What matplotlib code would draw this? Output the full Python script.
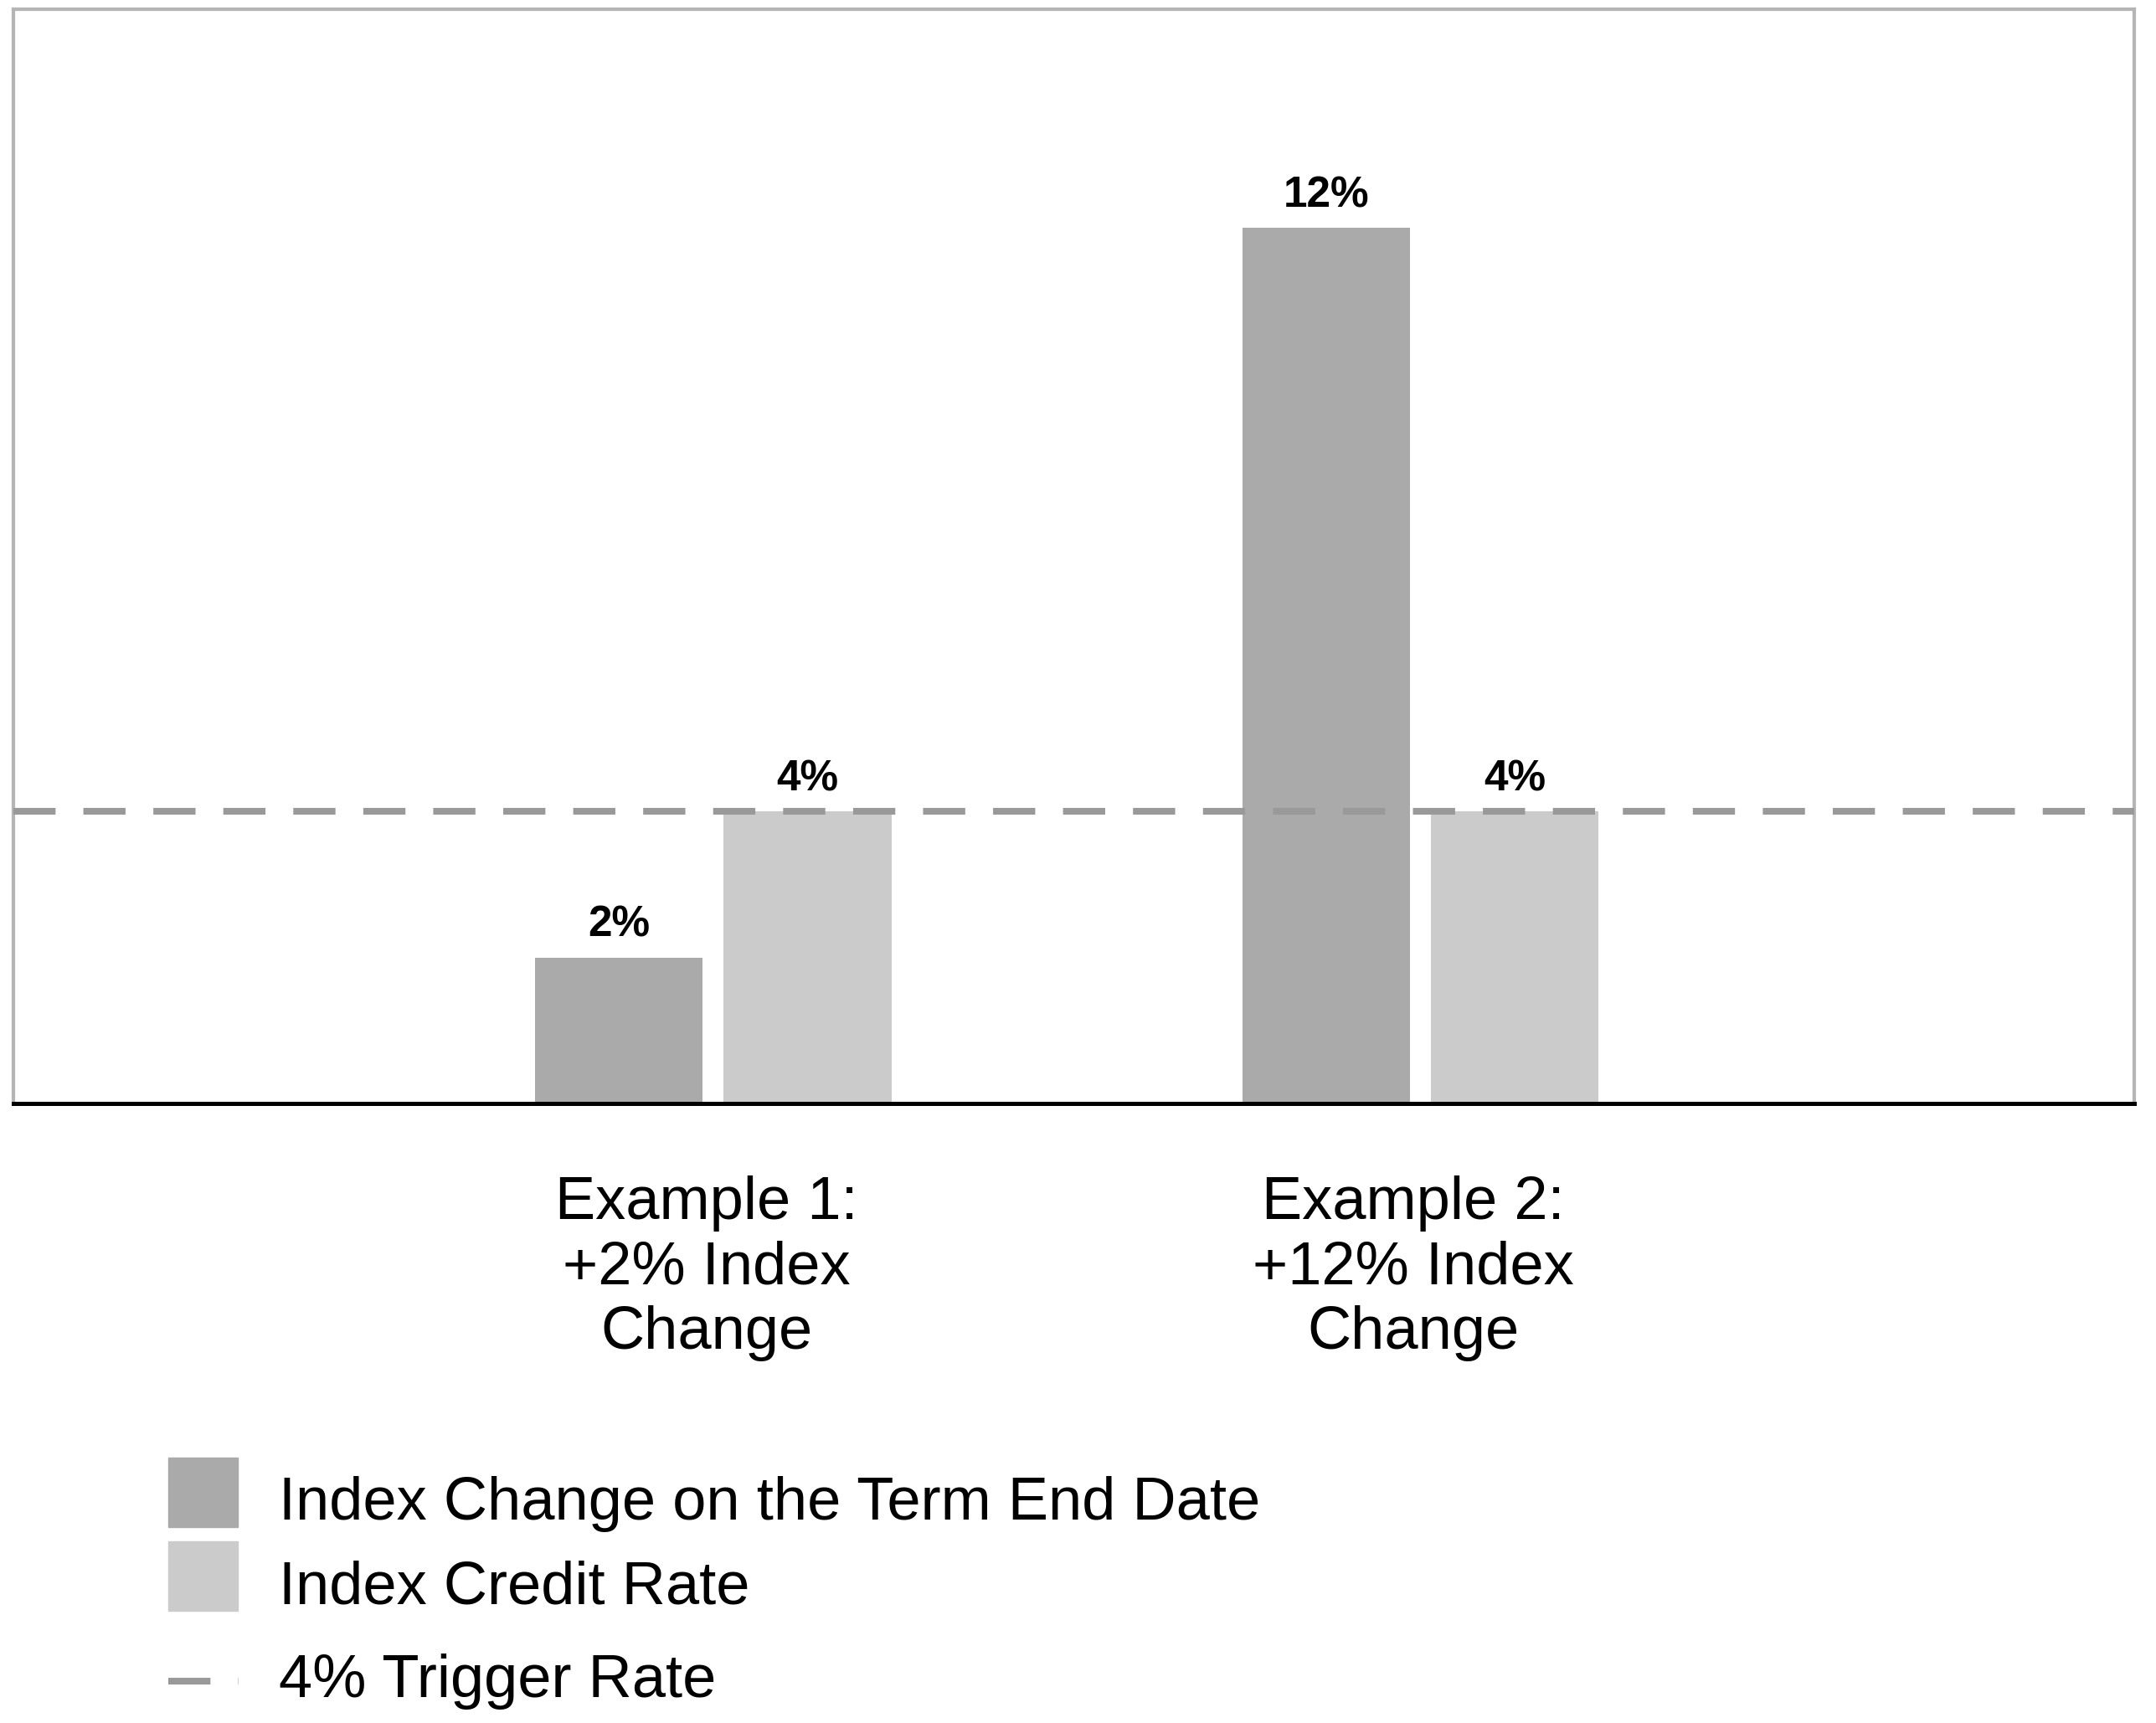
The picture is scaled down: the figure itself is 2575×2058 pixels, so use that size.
import numpy as np
import matplotlib
matplotlib.use("Agg")
import matplotlib.pyplot as plt
from matplotlib.patches import Rectangle
from matplotlib.lines import Line2D
from matplotlib.transforms import ScaledTranslation

plt.rcParams['font.family'] = ['Liberation Sans', 'DejaVu Sans']

categories = ["Example 1:\n+2% Index\nChange", "Example 2:\n+12% Index\nChange"]
index_change = [2, 12]
credit_rate = [4, 4]
trigger_rate = 4
series_names = ["Index Change on the Term End Date", "Index Credit Rate", "4% Trigger Rate"]

dark = '#aaaaaa'
light = '#cbcbcb'
dash_col = '#999999'

W, H = 2575, 2058
fig = plt.figure(figsize=(W / 100, H / 100), dpi=100)
ax = fig.add_axes([16 / W, 1 - 1318 / H, (2549 - 16) / W, (1318 - 11) / H])

x = np.arange(len(categories))
bw = 0.237
off = 0.1334
b1 = ax.bar(x - off, index_change, bw, color=dark, zorder=2)
b2 = ax.bar(x + off, credit_rate, bw, color=light, zorder=2)

for bars, vals in ((b1, index_change), (b2, credit_rate)):
    for r, v in zip(bars, vals):
        ax.annotate(f"{v}%", (r.get_x() + r.get_width() / 2, v),
                    xytext=(0, 18), textcoords='offset points',
                    ha='center', va='baseline', fontsize=37, fontweight='bold')

ax.axhline(trigger_rate, color=dash_col, lw=5.8, linestyle=(0, (6.25, 4.125)), zorder=3)

ax.set_xlim(-0.99, 2.01)
ax.set_ylim(0, 15)
ax.set_yticks([])
ax.set_xticks(x)
ax.set_xticklabels(categories, fontsize=52, linespacing=1.2)
ax.tick_params(axis='x', length=0, pad=62)
for lab in ax.get_xticklabels():
    lab.set_transform(lab.get_transform() + ScaledTranslation(-0.08, 0, fig.dpi_scale_trans))

for s in ('top', 'left', 'right'):
    ax.spines[s].set_color('#b5b5b5')
    ax.spines[s].set_linewidth(3)
ax.spines['bottom'].set_color('black')
ax.spines['bottom'].set_linewidth(3.6)

# legend
def fx(px):
    return px / W

def fy(py):
    return 1 - py / H

fig.add_artist(Rectangle((fx(201), fy(1824)), fx(284) - fx(201), fy(1741) - fy(1824),
                         transform=fig.transFigure, color=dark))
fig.add_artist(Rectangle((fx(201), fy(1924)), fx(284) - fx(201), fy(1841) - fy(1924),
                         transform=fig.transFigure, color=light))
fig.add_artist(Line2D([fx(201), fx(285)], [fy(2008), fy(2008)], transform=fig.transFigure,
                      color=dash_col, lw=5.8, linestyle=(0, (6.25, 4.125))))
for name, yb in zip(series_names, (1815, 1915, 2027)):
    fig.text(fx(333), fy(yb), name, fontsize=52, va='baseline', ha='left')

fig.savefig("out.png", dpi=100)
